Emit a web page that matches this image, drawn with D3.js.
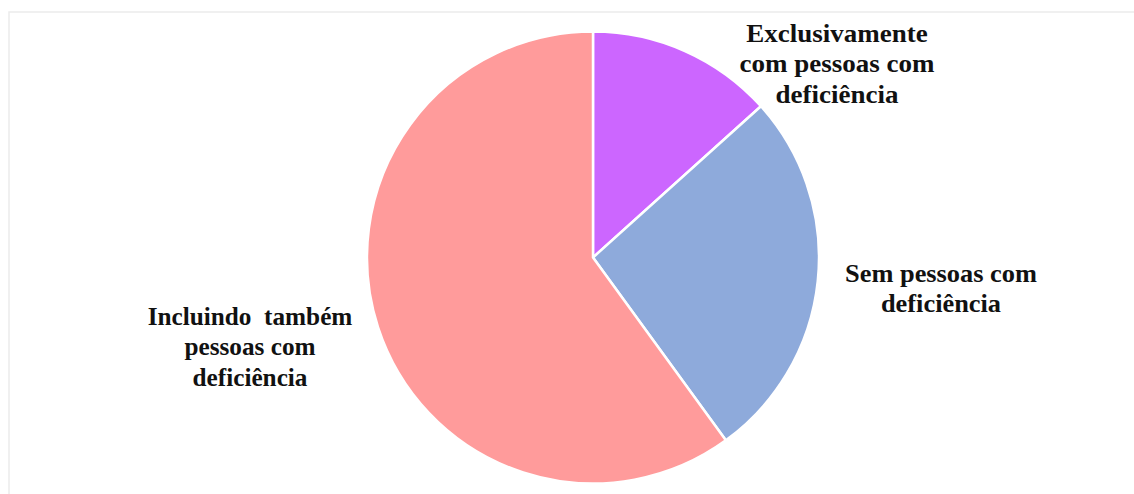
<!DOCTYPE html>
<html>
<head>
<meta charset="utf-8">
<script src="https://cdn.jsdelivr.net/npm/d3@7"></script>
<style>
  html, body { margin: 0; padding: 0; background: #ffffff; }
  svg { display: block; }
</style>
</head>
<body>
<svg id="chart" width="1134" height="494"></svg>
<script>
const categories = ["Exclusivamente com pessoas com deficiência", "Sem pessoas com deficiência", "Incluindo  também pessoas com deficiência"];
const values = [2, 4, 9];
const colors = ["#cc66ff", "#8eaadb", "#ff9b9b"];
const labelLines = [
  ["Exclusivamente", "com pessoas com", "deficiência"],
  ["Sem pessoas com", "deficiência"],
  ["Incluindo  também", "pessoas com", "deficiência"]
];

const svg = d3.select("#chart");
const W = 1134, H = 494;

// faint chart frame
svg.append("rect")
  .attr("x", 9).attr("y", 12)
  .attr("width", W + 20).attr("height", H + 20)
  .attr("fill", "#ffffff")
  .attr("stroke", "#ebebeb")
  .attr("stroke-width", 1.5);

const cx = 593, cy = 257.5, r = 226;
const g = svg.append("g").attr("transform", `translate(${cx},${cy})`);

const pie = d3.pie().sort(null).value(d => d)(values);
const arc = d3.arc().innerRadius(0).outerRadius(r);

g.selectAll("path").data(pie).join("path")
  .attr("d", arc)
  .attr("fill", (d, i) => colors[i])
  .attr("stroke", "#ffffff")
  .attr("stroke-width", 2.5)
  .attr("stroke-linejoin", "round");

// label positions (centre x, first baseline y, horizontal stretch)
const labelPos = [
  { x: 837, y: 42, sx: 1.08 },
  { x: 941, y: 282, sx: 1.055 },
  { x: 250, y: 325, sx: 1.01 }
];
const lineH = 30.5;

labelLines.forEach((lines, i) => {
  const lg = svg.append("g")
    .attr("transform", `translate(${labelPos[i].x},${labelPos[i].y}) scale(${labelPos[i].sx},1)`);
  const t = lg.append("text")
    .attr("x", 0)
    .attr("y", 0)
    .attr("text-anchor", "middle")
    .attr("font-family", "'Liberation Serif', 'Times New Roman', serif")
    .attr("font-weight", "bold")
    .attr("font-size", 25)
    .attr("fill", "#111111")
    .style("white-space", "pre");
  lines.forEach((ln, j) => {
    t.append("tspan")
      .attr("x", 0)
      .attr("dy", j === 0 ? 0 : lineH)
      .text(ln);
  });
});
</script>
</body>
</html>
